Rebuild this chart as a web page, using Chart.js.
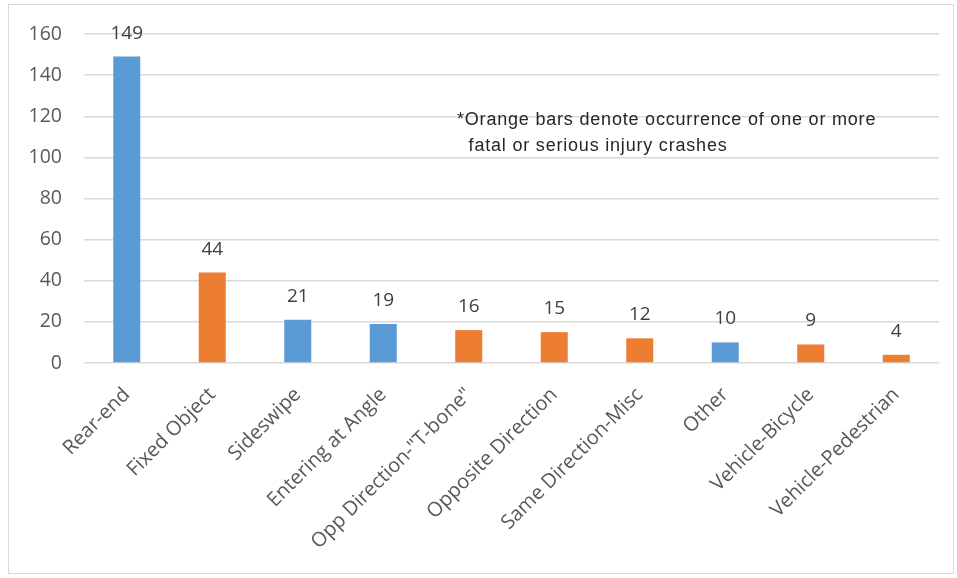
<!DOCTYPE html>
<html lang="en">
<head>
  <meta charset="UTF-8" />
  <title>Crash types</title>
  <style>
    body { margin:0; background:#fff; }
    #wrap { position:absolute; left:0; top:0; width:957px; height:578px; }
    #frame { position:absolute; left:8px; top:4px; width:946px; height:570px; border:1px solid #d9d9d9; box-sizing:border-box; pointer-events:none; }
    #note { position:absolute; left:457px; top:106px; font-family:"Liberation Sans", sans-serif; font-size:18px; letter-spacing:0.8px; color:#262626; line-height:26px; white-space:pre; }
  </style>
  <script src="https://cdn.jsdelivr.net/npm/chart.js"></script>
</head>
<body>
  <div id="wrap">
    <canvas id="crashChart"></canvas>
    <div id="frame"></div>
    <div id="note">*Orange bars denote occurrence of one or more
  fatal or serious injury crashes</div>
  </div>

  <script>
    const categories = ['Rear-end', 'Fixed Object', 'Sideswipe', 'Entering at Angle', 'Opp Direction-"T-bone"',
      'Opposite Direction', 'Same Direction-Misc', 'Other', 'Vehicle-Bicycle', 'Vehicle-Pedestrian'];
    const crashCounts = [149, 44, 21, 19, 16, 15, 12, 10, 9, 4];
    const severeFlags = [false, true, false, false, true, true, true, false, true, true];
    const yTicks = [0, 20, 40, 60, 80, 100, 120, 140, 160];

    const BLUE = '#5B9BD5', ORANGE = '#ED7D31';
    const barColors = severeFlags.map(s => s ? ORANGE : BLUE);

    // value labels above each bar
    const valueLabels = {
      id: 'valueLabels',
      afterDatasetsDraw(chart) {
        const ctx = chart.ctx;
        const meta = chart.getDatasetMeta(0);
        ctx.save();
        ctx.font = '19px "Open Sans", sans-serif';
        ctx.fillStyle = '#404040';
        ctx.textAlign = 'center';
        ctx.textBaseline = 'alphabetic';
        meta.data.forEach((bar, i) => {
          ctx.fillText(String(crashCounts[i]), bar.x, bar.y - 18);
        });
        ctx.restore();
      }
    };

    new Chart(document.getElementById('crashChart'), {
      type: 'bar',
      data: {
        labels: categories,
        datasets: [{
          data: crashCounts,
          backgroundColor: barColors,
          categoryPercentage: 1,
          barPercentage: 0.316
        }]
      },
      options: {
        responsive: true,
        maintainAspectRatio: false,
        animation: false,
        layout: { padding: { top: 34, right: 18, left: 0, bottom: 0 } },
        plugins: { legend: { display: false }, tooltip: { enabled: false } },
        scales: {
          x: {
            grid: { display: false },
            border: { display: false },
            ticks: {
              minRotation: 45, maxRotation: 45, autoSkip: false, padding: 12,
              color: '#595959', font: { family: '"Open Sans", sans-serif', size: 20 }
            },
            afterFit(scale) { scale.height = 215; }
          },
          y: {
            min: 0, max: 160,
            afterBuildTicks(scale) { scale.ticks = yTicks.map(v => ({ value: v })); },
            grid: { color: '#d9d9d9', lineWidth: 1.5, drawTicks: false },
            border: { display: false },
            ticks: {
              padding: 22, color: '#595959',
              font: { family: '"Open Sans", sans-serif', size: 19.5 }
            },
            afterFit(scale) { scale.width = 84; }
          }
        }
      },
      plugins: [valueLabels]
    });
  </script>
</body>
</html>
